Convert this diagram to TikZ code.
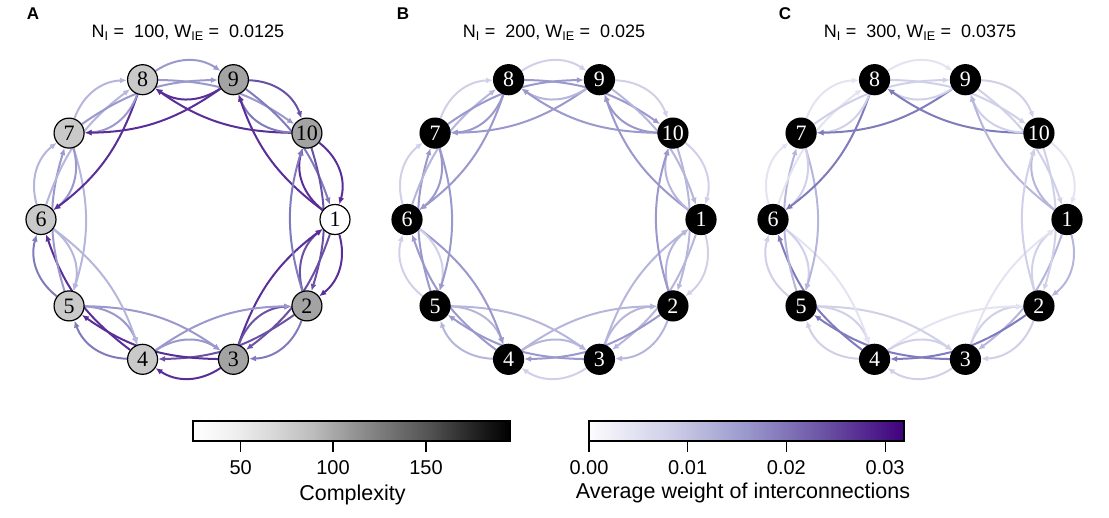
\documentclass[tikz,border=0pt]{standalone}
\usepackage{fontspec}
\setmainfont{Liberation Sans}
\newfontfamily\numfont{Liberation Serif}
\usetikzlibrary{arrows.meta,backgrounds}
\definecolor{purp0}{HTML}{FCFBFD}
\definecolor{purp1}{HTML}{E4E3F1}
\definecolor{purp2}{HTML}{D0D0E9}
\definecolor{purp3}{HTML}{B6B6DC}
\definecolor{purp4}{HTML}{9A98CC}
\definecolor{purp5}{HTML}{7F7BBC}
\definecolor{purp6}{HTML}{6A51A3}
\definecolor{purp7}{HTML}{5A2E98}
\definecolor{purp8}{HTML}{3F007D}
\definecolor{cplxlow}{HTML}{FFFFFF}
\definecolor{cplxmid}{HTML}{C9C9C9}
\definecolor{cplxhigh}{HTML}{A3A3A3}
\pgfdeclarehorizontalshading{purpbar}{100bp}{color(0bp)=(purp0); color(25bp)=(purp0);
  color(37.5bp)=(purp2); color(50bp)=(purp4); color(62.5bp)=(purp6); color(75bp)=(purp8); color(100bp)=(purp8)}
\pgfdeclarehorizontalshading{greybar}{100bp}{color(0bp)=(white); color(25bp)=(white);
  color(31.25bp)=(black!6); color(37.5bp)=(black!15); color(43.75bp)=(black!26); color(50bp)=(black!41);
  color(56.25bp)=(black!55); color(62.5bp)=(black!68); color(68.75bp)=(black!85); color(75bp)=(black); color(100bp)=(black)}

\begin{document}
\begin{tikzpicture}[x=1pt, y=1pt,
    nd/.style={circle, draw=black, line width=1.2pt, minimum size=30pt, inner sep=0pt,
      font=\numfont\fontsize{22}{22}\selectfont},
    darknd/.style={nd, fill=black, text=white},
    link/.style={-{Latex[length=7pt,width=6pt]}, line width=2pt},
    adjlink/.style={link, bend left=34},
    skiplink/.style={link, bend left=17},
    paneltitle/.style={font=\fontsize{18}{20}\selectfont},
    panelletter/.style={font=\bfseries\fontsize{17}{18}\selectfont},
    barlabel/.style={font=\fontsize{20}{22}\selectfont},
    barname/.style={font=\fontsize{21.5}{23}\selectfont},
    barframe/.style={draw=black, line width=1.1pt},
    bartick/.style={line width=1.1pt}
  ]
    \useasboundingbox (0,0) rectangle (1109,-517);

    % panel letters and titles
    \node[panelletter] (la) at (33,-14) {A};
    \node[panelletter] (lb) at (403,-14) {B};
    \node[panelletter] (lc) at (785,-14) {C};
    \node[paneltitle] (ta) at (188,-33) {N\textsubscript{I} =~ 100, W\textsubscript{IE} =~ 0.0125};
    \node[paneltitle] (tb) at (554,-33) {N\textsubscript{I} =~ 200, W\textsubscript{IE} =~ 0.025};
    \node[paneltitle] (tc) at (920,-33) {N\textsubscript{I} =~ 300, W\textsubscript{IE} =~ 0.0375};

    % rings
    \foreach \k/\f in {1/cplxlow, 2/cplxhigh, 3/cplxhigh, 4/cplxmid, 5/cplxmid,
                       6/cplxmid, 7/cplxmid, 8/cplxmid, 9/cplxhigh, 10/cplxhigh}
      \node[nd, fill=\f] (a\k) at ({188+147*cos(-(\k-1)*36)}, {-219.5+147*sin(-(\k-1)*36)}) {\k};
    \foreach \k in {1,...,10}
      \node[darknd] (b\k) at ({554+147*cos(-(\k-1)*36)}, {-219.5+147*sin(-(\k-1)*36)}) {\k};
    \foreach \k in {1,...,10}
      \node[darknd] (c\k) at ({920+147*cos(-(\k-1)*36)}, {-219.5+147*sin(-(\k-1)*36)}) {\k};

    % connections: i->i+1, i+1->i, i->i+2, i+2->i
    \begin{scope}[on background layer]
      \foreach \p/\data in {a/{1/7/6/6/7, 2/5/6/6/4, 3/7/4/7/4, 4/5/4/7/3, 5/5/3/4/3,
                               6/3/4/3/7, 7/3/4/4/7, 8/4/7/4/7, 9/6/5/5/7, 10/7/7/6/5},
                            b/{1/2/3/3/3, 2/3/3/4/3, 3/2/3/4/3, 4/3/3/4/4, 5/2/2/4/4,
                               6/2/4/3/4, 7/2/4/4/4, 8/2/3/4/4, 9/2/4/3/4, 10/2/3/3/4},
                            c/{1/3/2/3/1, 2/2/2/5/1, 3/2/2/5/2, 4/2/2/5/1, 5/2/2/3/3,
                               6/1/2/1/5, 7/1/2/2/5, 8/1/2/2/5, 9/2/2/2/3, 10/1/3/2/2}}
        \foreach \i/\u/\v/\s/\t in \data {
          \pgfmathtruncatemacro\j{mod(\i,10)+1}
          \pgfmathtruncatemacro\m{mod(\i+1,10)+1}
          \draw[adjlink, draw=purp\u] (\p\i) to (\p\j);
          \draw[adjlink, draw=purp\v] (\p\j) to (\p\i);
          \draw[skiplink, draw=purp\s] (\p\i) to (\p\m);
          \draw[skiplink, draw=purp\t] (\p\m) to (\p\i);
        }
    \end{scope}

    % colour bars
    \shade[shading=greybar] (193,-421) rectangle (510,-441);
    \draw[barframe] (193,-421) rectangle (510,-441);
    \foreach \v/\x in {50/240.7, 100/333, 150/426} {
      \draw[bartick] (\x,-441) -- (\x,-452);
      \node[barlabel] (g\v) at (\x,-468) {\v};
    }
    \node[barname] (gname) at (352.5,-495) {Complexity};

    \shade[shading=purpbar] (589,-421) rectangle (904,-441);
    \draw[barframe] (589,-421) rectangle (904,-441);
    \foreach \n/\v/\x in {0/0.00/589, 1/0.01/687.7, 2/0.02/786.4, 3/0.03/885.1} {
      \draw[bartick] (\x,-441) -- (\x,-452);
      \node[barlabel] (p\n) at (\x,-468) {\v};
    }
    \node[barname] (pname) at (743,-493) {Average weight of interconnections};
\end{tikzpicture}
\end{document}
